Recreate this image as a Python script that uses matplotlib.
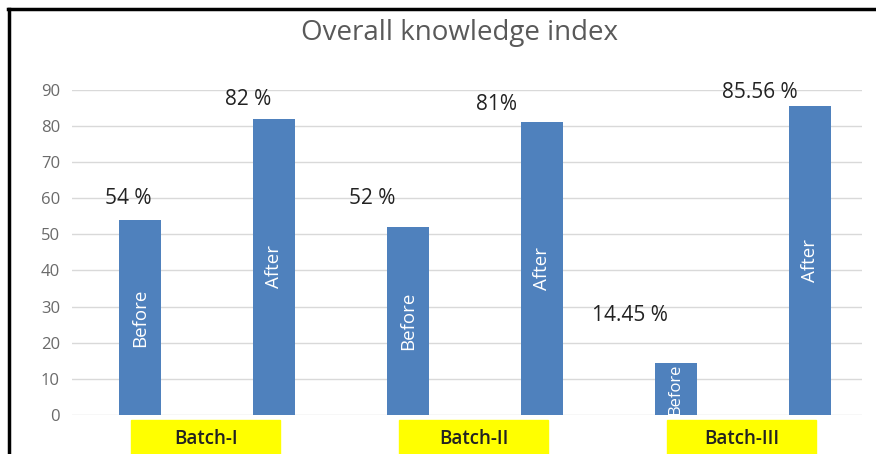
import numpy as np
import matplotlib.pyplot as plt
from matplotlib.patches import Rectangle
from matplotlib.lines import Line2D
import matplotlib.transforms as mtransforms

plt.rcParams['font.family'] = ['Open Sans', 'DejaVu Sans']

batches = ["Batch-I", "Batch-II", "Batch-III"]
phases = ["Before", "After"]
values = [54, 82, 52, 81, 14.45, 85.56]
value_labels = ["54 %", "82 %", "52 %", "81%", "14.45 %", "85.56 %"]

blue = "#4F81BD"
fig = plt.figure(figsize=(8.76, 4.54), dpi=100)
ax = fig.add_axes([0.082, 0.086, 0.902, 0.716])

x = np.arange(len(values))
bars = ax.bar(x, values, width=0.31, color=blue, zorder=3)

ax.set_ylim(0, 90)
ax.set_xlim(-0.51, 5.39)
ax.set_yticks(range(0, 91, 10))
ax.grid(axis='y', color='#D9D9D9', lw=1, zorder=0)
ax.set_xticks([])
for s in ax.spines.values():
    s.set_visible(False)
ax.tick_params(axis='y', length=0, pad=8.5, labelsize=12, labelcolor='#6a6a6a')

# inside labels (Before / After)
for i, b in enumerate(bars):
    v = values[i]
    txt = phases[i % 2]
    fs = 13.5 if v > 30 else 12
    ax.text(b.get_x() + b.get_width() / 2, v / 2, txt, rotation=90,
            color='white', ha='center', va='center', fontsize=fs, zorder=4)

# value labels, placed by hand like the original
offsets = [(-0.09, 60), (0.81, 87.3), (1.73, 59.8), (2.66, 85.9), (3.66, 27.4), (4.63, 89.2)]
for (lx, ly), t in zip(offsets, value_labels):
    ax.text(lx, ly, t, ha='center', va='center', fontsize=15, color='#222222', zorder=5)

# yellow batch boxes below the axis
trans = mtransforms.blended_transform_factory(ax.transData, fig.transFigure)
for k, name in enumerate(batches):
    cx = 2 * k + 0.49
    ax.add_patch(Rectangle((cx - 0.555, 0.0), 1.11, 0.075, transform=trans,
                           color='#FFFF00', clip_on=False, zorder=2))
    ax.text(cx, 0.032, name, transform=trans, ha='center', va='center',
            fontsize=13.5, fontweight='semibold', color='#222222')

fig.text(0.525, 0.928, "Overall knowledge index", ha='center', va='center',
         fontsize=20, color='#595959')

# outer frame (top and left edges)
fig.add_artist(Line2D([0.0095, 1.0], [0.981, 0.981], transform=fig.transFigure, color='black', lw=2.5))
fig.add_artist(Line2D([0.0105, 0.0105], [0.0, 0.981], transform=fig.transFigure, color='black', lw=2.5))

fig.savefig("out.png", dpi=100)
